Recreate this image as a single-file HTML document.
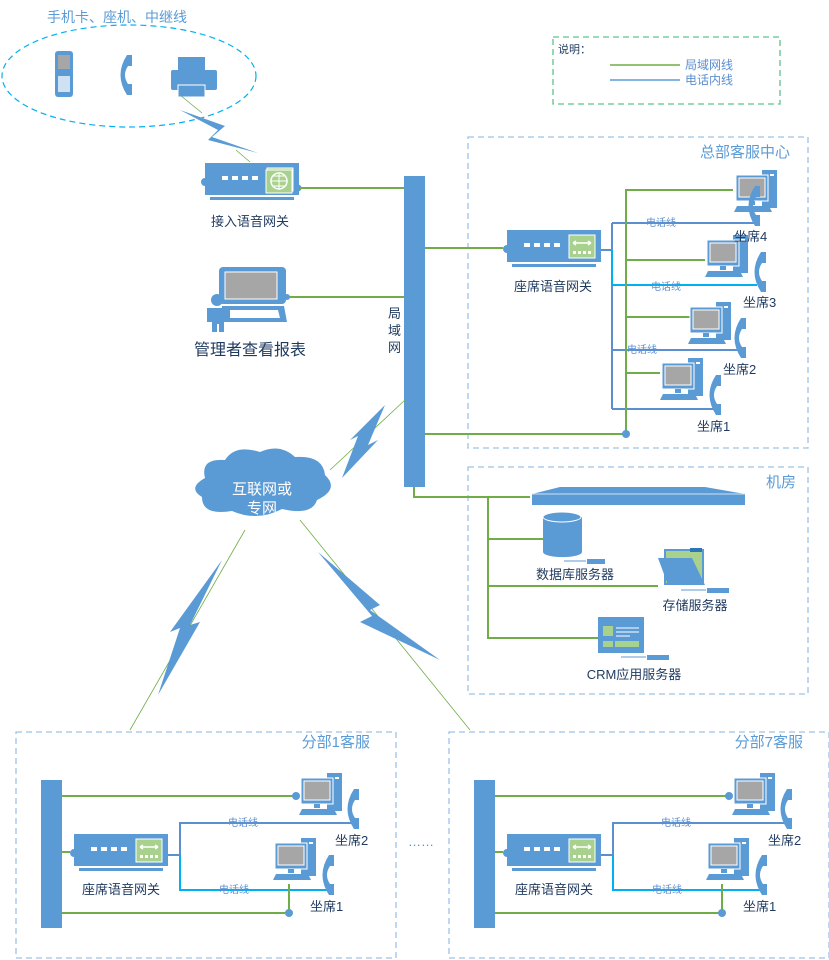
<!DOCTYPE html>
<html><head><meta charset="utf-8"><style>
body{margin:0;background:#fff}
svg{display:block;font-family:"Liberation Sans","Noto Sans CJK SC",sans-serif}
.t{fill:#1f3a5f;font-size:13px}
.b{fill:#5b9bd5}
.g{stroke:#70ad47;stroke-width:2;fill:none}
.p{stroke:#5b8fd0;stroke-width:2;fill:none}
.c{stroke:#00b0f0;stroke-width:2;fill:none}
.s{fill:#5b8fd0;font-size:10px}
.box{fill:none;stroke:#9dc3e6;stroke-width:1.3;stroke-dasharray:6 4}
.ti{fill:#5b9bd5;font-size:15px}
</style></head><body>
<svg width="829" height="960" viewBox="0 0 829 960">
<defs>
<g id="pc">
<rect x="30" y="0" width="15" height="38" fill="#5b9bd5"/>
<rect x="38" y="4" width="4" height="2" fill="#fff"/>
<rect x="4" y="5" width="32" height="26" fill="#5b9bd5" stroke="#fff" stroke-width="1"/>
<rect x="7" y="8" width="26" height="19" fill="#a6a6a6" stroke="#fff"/>
<rect x="17" y="31" width="6" height="4" fill="#5b9bd5"/>
<polygon points="2,42 5,36 37,36 40,42" fill="#5b9bd5"/>
</g>
<path id="ph" d="M9,0 h5 v11 h-4 q-6,9 0,18 h4 v11 h-5 q-13,-20 0,-40z" fill="#5b9bd5"/>
<g id="gw">
<rect x="0" y="0" width="94" height="32" fill="#5b9bd5"/>
<rect x="5" y="34" width="84" height="3" fill="#5b9bd5"/>
<circle cx="0" cy="19" r="4" fill="#5b9bd5"/>
<g fill="#fff"><rect x="17" y="13" width="6" height="4"/><rect x="27" y="13" width="6" height="4"/><rect x="37" y="13" width="6" height="4"/><rect x="47" y="13" width="6" height="4"/></g>
<rect x="62" y="5" width="26" height="23" fill="#a9d18e" stroke="#fff"/>
<path d="M66,13 h18 M66,13 l3,-2 M66,13 l3,2 M84,13 l-3,-2 M84,13 l-3,2" stroke="#fff" stroke-width="1.5" fill="none"/>
<g fill="#fff"><rect x="66" y="21" width="3" height="3"/><rect x="71" y="21" width="3" height="3"/><rect x="76" y="21" width="3" height="3"/><rect x="81" y="21" width="3" height="3"/></g>
</g>
</defs>

<!-- legend -->
<rect x="553" y="37" width="227" height="67" fill="none" stroke="#5fc38a" stroke-width="1.3" stroke-dasharray="6 4"/>
<text x="558" y="53" class="s" style="fill:#1f3a5f;font-size:11px">说明：</text>
<line x1="610" y1="65" x2="680" y2="65" stroke="#70ad47" stroke-width="1.5"/>
<text x="685" y="69" class="t" style="font-size:12px;fill:#5b8fd0">局域网线</text>
<line x1="610" y1="80" x2="680" y2="80" stroke="#5b9bd5" stroke-width="1.5"/>
<text x="685" y="84" class="t" style="font-size:12px;fill:#5b8fd0">电话内线</text>

<!-- top left -->
<text x="47" y="22" class="ti" style="font-size:14px">手机卡、座机、中继线</text>
<ellipse cx="129" cy="76" rx="127" ry="51" fill="none" stroke="#00b0f0" stroke-width="1.2" stroke-dasharray="6 4"/>
<rect x="55" y="51" width="18" height="46" rx="3" fill="#5b9bd5"/>
<rect x="58" y="55" width="12" height="14" fill="#a6a6a6"/>
<rect x="58" y="76" width="12" height="16" fill="#cfe2f3"/>
<use href="#ph" x="118" y="55"/>
<rect x="178" y="57" width="27" height="14" fill="#5b9bd5"/>
<rect x="171" y="70" width="46" height="20" rx="2" fill="#5b9bd5"/>
<rect x="178" y="85" width="27" height="12" fill="#5b9bd5" stroke="#fff"/>
<line x1="180" y1="95" x2="202" y2="113" stroke="#70ad47" stroke-width="0.8"/>
<polygon points="180,110 225,126 212,137 258,153 208,140 218,130" fill="#5b9bd5"/>
<line x1="236" y1="150" x2="250" y2="162" stroke="#70ad47" stroke-width="0.8"/>

<use href="#gw" x="205" y="163"/>
<circle cx="298" cy="188" r="3.5" fill="#5b9bd5"/>
<rect x="266" y="170" width="26" height="23" fill="#a9d18e" stroke="#fff"/>
<circle cx="279" cy="181" r="8" fill="none" stroke="#fff" stroke-width="1.5"/>
<path d="M271,181 h16 M279,173 v16 M273,176 h12 M273,186 h12" stroke="#fff" stroke-width="1"/>
<text x="250" y="226" class="t" text-anchor="middle">接入语音网关</text>
<line x1="300" y1="188" x2="404" y2="188" class="g"/>

<!-- manager -->
<rect x="219" y="267" width="67" height="37" rx="4" fill="#5b9bd5"/>
<rect x="225" y="272" width="52" height="27" fill="#a6a6a6" stroke="#fff"/>
<polygon points="222,306 284,306 287,322 222,322" fill="#5b9bd5"/>
<polygon points="230,310 278,310 280,318 230,318" fill="#fff"/>
<circle cx="287" cy="297" r="3" fill="#5b9bd5"/>
<circle cx="217" cy="300" r="6" fill="#5b9bd5"/>
<path d="M207,308 h21 v14 h-4 v10 h-5 v-8 h-2 v8 h-5 v-10 h-5z" fill="#5b9bd5"/>
<text x="250" y="355" class="t" text-anchor="middle" style="font-size:16px">管理者查看报表</text>
<line x1="289" y1="297" x2="404" y2="297" class="g"/>

<!-- LAN bar -->
<rect x="404" y="176" width="21" height="311" fill="#5b9bd5"/>
<text x="388" y="318" class="t">局</text><text x="388" y="335" class="t">域</text><text x="388" y="352" class="t">网</text>

<!-- HQ -->
<rect x="468" y="137" width="340" height="311" class="box"/>
<text x="790" y="157" class="ti" text-anchor="end">总部客服中心</text>
<line x1="425" y1="248" x2="503" y2="248" class="g"/>
<use href="#gw" x="507" y="230"/>
<text x="553" y="291" class="t" text-anchor="middle">座席语音网关</text>
<line x1="425" y1="434" x2="626" y2="434" class="g"/>
<path d="M601,250 H612 V409 M612,223 V250" class="p"/>
<path d="M612,223 H757" class="p"/>
<path d="M612,250 V285 H757" class="c"/>
<path d="M612,350 H740" class="p"/>
<path d="M612,409 H720" class="p"/>
<path d="M626,434 V190 H733 M626,260 H705 M626,317 H690 M626,373 H660" class="g"/>
<circle cx="626" cy="434" r="4" fill="#5b9bd5"/>
<text x="646" y="226" class="s">电话线</text>
<text x="651" y="290" class="s">电话线</text>
<text x="627" y="353" class="s">电话线</text>
<use href="#pc" x="732" y="170"/>
<use href="#ph" x="746" y="186"/>
<use href="#pc" x="703" y="235"/>
<use href="#ph" x="752" y="252"/>
<use href="#pc" x="686" y="302"/>
<use href="#ph" x="732" y="318"/>
<use href="#pc" x="658" y="358"/>
<use href="#ph" x="707" y="375"/>
<text x="734" y="241" class="t">坐席4</text>
<text x="743" y="307" class="t">坐席3</text>
<text x="723" y="374" class="t">坐席2</text>
<text x="697" y="431" class="t">坐席1</text>

<!-- internet -->
<line x1="405" y1="400" x2="330" y2="470" stroke="#70ad47" stroke-width="0.8"/>
<polygon points="385,405 368,445 378,440 342,478 358,436 350,440" fill="#5b9bd5"/>
<path d="M205,478 q-5,-20 20,-18 q10,-16 35,-8 q20,-9 35,5 q28,-2 30,18 q15,14 -8,25 q-5,16 -35,9 q-25,13 -50,2 q-30,5 -30,-14 q-15,-9 3,-19z" fill="#5b9bd5"/>
<text x="262" y="494" text-anchor="middle" fill="#fff" style="font-size:15px">互联网或</text>
<text x="262" y="513" text-anchor="middle" fill="#fff" style="font-size:15px">专网</text>
<line x1="245" y1="530" x2="130" y2="730" stroke="#70ad47" stroke-width="0.8"/>
<polygon points="222,560 190,625 200,622 158,695 180,628 170,632" fill="#5b9bd5"/>
<line x1="300" y1="520" x2="470" y2="730" stroke="#70ad47" stroke-width="0.8"/>
<polygon points="318,552 380,605 370,610 440,660 360,622 372,616" fill="#5b9bd5"/>

<!-- machine room -->
<rect x="468" y="467" width="340" height="227" class="box"/>
<text x="796" y="487" class="ti" text-anchor="end">机房</text>
<path d="M414,487 V497 H530 M488,497 V638 H598 M488,539 H545 M488,586 H658" class="g"/>
<polygon points="532,494 560,487 705,487 745,494 745,505 532,505" fill="#5b9bd5"/>
<line x1="532" y1="494" x2="745" y2="494" stroke="#cfe2f3" stroke-width="1"/>
<path d="M543,517 v35 a19,5 0 0 0 39,0 v-35z" fill="#5b9bd5"/>
<ellipse cx="562" cy="517" rx="19" ry="5" fill="#5b9bd5" stroke="#fff"/>
<line x1="564" y1="561" x2="586" y2="561" stroke="#5b9bd5"/><rect x="587" y="559" width="18" height="5" fill="#5b9bd5"/>
<text x="575" y="579" class="t" text-anchor="middle">数据库服务器</text>
<rect x="665" y="550" width="38" height="34" fill="#a9d18e" stroke="#5b9bd5" stroke-width="2"/>
<rect x="690" y="548" width="12" height="4" fill="#2e75b6"/>
<polygon points="658,558 692,558 705,585 668,585" fill="#5b9bd5"/>
<line x1="681" y1="590" x2="706" y2="590" stroke="#5b9bd5"/><rect x="707" y="588" width="22" height="5" fill="#5b9bd5"/>
<text x="695" y="610" class="t" text-anchor="middle">存储服务器</text>
<rect x="598" y="617" width="46" height="36" fill="#5b9bd5"/>
<rect x="603" y="626" width="10" height="10" fill="#a9d18e"/>
<rect x="603" y="641" width="10" height="6" fill="#a9d18e"/><rect x="615" y="641" width="24" height="6" fill="#a9d18e"/>
<path d="M616,628 h23 M616,632 h23 M616,636 h14" stroke="#fff"/>
<line x1="621" y1="657" x2="646" y2="657" stroke="#5b9bd5"/><rect x="647" y="655" width="22" height="5" fill="#5b9bd5"/>
<text x="634" y="679" class="t" text-anchor="middle">CRM应用服务器</text>

<!-- branches -->
<g id="br">
<rect x="16" y="732" width="380" height="226" class="box"/>
<rect x="41" y="780" width="21" height="148" fill="#5b9bd5"/>
<line x1="62" y1="796" x2="296" y2="796" class="g"/>
<circle cx="296" cy="796" r="4" fill="#5b9bd5"/>
<line x1="62" y1="852" x2="70" y2="852" class="g"/>
<use href="#gw" x="74" y="834"/>
<text x="121" y="894" class="t" text-anchor="middle">座席语音网关</text>
<path d="M168,855 H180 V823 H355" class="p"/>
<path d="M180,855 V890 H330" class="c"/>
<path d="M289,884 V913 H62" class="g"/>
<circle cx="289" cy="913" r="4" fill="#5b9bd5"/>
<text x="228" y="826" class="s">电话线</text>
<text x="219" y="893" class="s">电话线</text>
<use href="#pc" x="297" y="773"/>
<use href="#ph" x="345" y="789"/>
<use href="#pc" x="271" y="838"/>
<use href="#ph" x="320" y="855"/>
<text x="335" y="845" class="t">坐席2</text>
<text x="310" y="911" class="t">坐席1</text>
</g>
<text x="370" y="747" class="ti" text-anchor="end">分部1客服</text>
<use href="#br" x="433" y="0"/>
<text x="803" y="747" class="ti" text-anchor="end">分部7客服</text>
<text x="408" y="846" class="s" style="font-size:13px">……</text>
</svg>
</body></html>
